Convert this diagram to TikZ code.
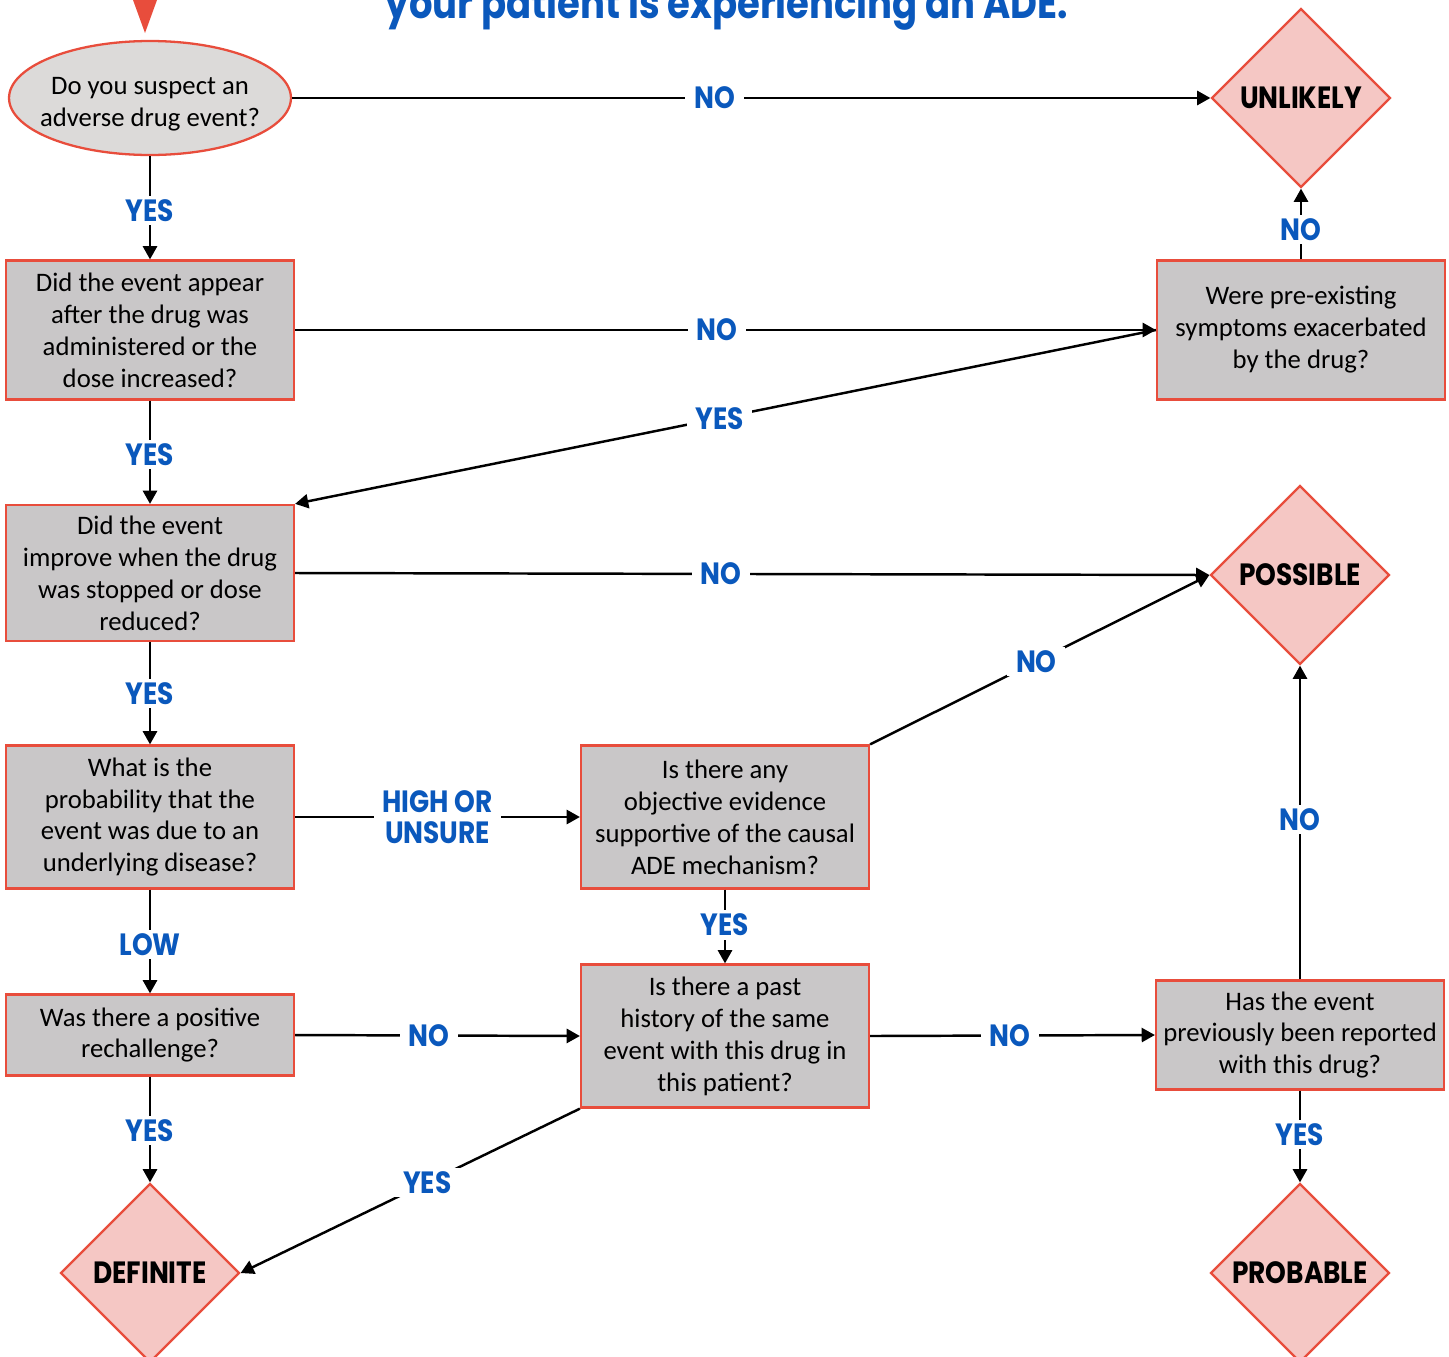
\documentclass[tikz,border=0pt]{standalone}
\usepackage{fontspec}
\setmainfont{Carlito}
\newfontfamily\lblfont{Poppins}[FakeStretch=0.86]
\usetikzlibrary{shapes.geometric,arrows.meta}
\definecolor{adered}{HTML}{E84D3C}
\definecolor{ansblue}{HTML}{0A58BC}
\definecolor{boxgray}{HTML}{C9C7C8}
\definecolor{ellgray}{HTML}{DCDAD9}
\definecolor{verdictpink}{HTML}{F5C7C4}

\begin{document}
\begin{tikzpicture}[x=0.02cm,y=-0.02cm,
  qbox/.style={draw=adered,line width=1.3pt,fill=boxgray,align=center,inner sep=0pt,
    minimum width=5.76cm,font=\fontsize{15.2}{18.2}\selectfont},
  verdict/.style={diamond,draw=adered,line width=1.3pt,fill=verdictpink,inner sep=0pt,
    minimum width=3.58cm,minimum height=3.58cm,font=\lblfont\bfseries\fontsize{17.5}{19}\selectfont},
  ans/.style={fill=white,text=ansblue,inner xsep=5pt,inner ysep=2pt,align=center,
    font=\lblfont\bfseries\fontsize{17.5}{17.6}\selectfont},
  arr/.style={line width=1.4pt,-{Triangle[length=7.5pt,width=8pt]}}]

\useasboundingbox (0,0) rectangle (1449,1356);
\clip (0,0) rectangle (1449,1356);

\fill[adered] (133,0) -- (157,0) -- (145,33) -- cycle;
\node[anchor=base,text=ansblue,font=\lblfont\bfseries\fontsize{24.5}{28}\selectfont] (title) at (727,18) {your patient is experiencing an ADE.};

\node[ellipse,draw=adered,line width=1.3pt,fill=ellgray,minimum width=5.64cm,minimum height=2.28cm,inner xsep=-20pt,inner ysep=0pt,align=center,font=\fontsize{15.2}{18.2}\selectfont] (suspect) at (150,98) {\rule{0pt}{17pt}Do you suspect an\\adverse drug event?};

\node[verdict] (unlikely) at (1301,98) {UNLIKELY};
\node[verdict] (possible) at (1300,575) {POSSIBLE};
\node[verdict] (definite) at (150,1273) {DEFINITE};
\node[verdict] (probable) at (1300,1273) {PROBABLE};

\node[qbox,minimum height=2.78cm] (appear) at (150,330) {Did the event appear\\after the drug was\\administered or the\\dose increased?};
\node[qbox,minimum height=2.78cm] (preexist) at (1301,330) {Were pre-existing\\symptoms exacerbated\\by the drug?};
\node[qbox,minimum height=2.72cm] (improve) at (150,573) {Did the event\\improve when the drug\\was stopped or dose\\reduced?};
\node[qbox,minimum height=2.86cm] (disease) at (150,817) {What is the\\probability that the\\event was due to an\\underlying disease?};
\node[qbox,minimum height=2.86cm] (evidence) at (725,817) {Is there any\\objective evidence\\supportive of the causal\\ADE mechanism?};
\node[qbox,minimum height=1.62cm] (rechallenge) at (150,1035) {Was there a positive\\rechallenge?};
\node[qbox,minimum height=2.86cm] (history) at (725,1036) {Is there a past\\history of the same\\event with this drug in\\this patient?};
\node[qbox,minimum height=2.18cm] (reported) at (1300,1035) {Has the event\\previously been reported\\with this drug?};

\draw[arr] (suspect.east) -- node[ans,pos=0.46]{NO} (unlikely.west);
\draw[arr] (suspect.south) -- node[ans,pos=0.53]{YES} (appear.north);
\draw[arr] (appear.east) -- node[ans,pos=0.49]{NO} (preexist.west);
\draw[arr] (preexist.north) -- node[ans,pos=0.42]{NO} (unlikely.south);
\draw[arr] (preexist.west) -- node[ans,pos=0.507]{YES} (improve.north east);
\draw[arr] (appear.south) -- node[ans,pos=0.52]{YES} (improve.north);
\draw[arr] (improve.east) -- node[ans,pos=0.466]{NO} (possible.west);
\draw[arr] (improve.south) -- node[ans,pos=0.5]{YES} (disease.north);
\draw[arr] (disease.east) -- node[ans,pos=0.5]{HIGH OR\\UNSURE} (evidence.west);
\draw[arr] (evidence.north east) -- node[ans,pos=0.49]{NO} (possible.west);
\draw[arr] (disease.south) -- node[ans,pos=0.53]{LOW} (rechallenge.north);
\draw[arr] (evidence.south) -- node[ans,pos=0.48]{YES} (history.north);
\draw[arr] (rechallenge.east) -- node[ans,pos=0.47]{NO} (history.west);
\draw[arr] (history.east) -- node[ans,pos=0.49]{NO} (reported.west);
\draw[arr] (reported.north) -- node[ans,pos=0.51]{NO} (possible.south);
\draw[arr] (reported.south) -- node[ans,pos=0.48]{YES} (probable.north);
\draw[arr] (rechallenge.south) -- node[ans,pos=0.51]{YES} (definite.north);
\draw[arr] (history.south west) -- node[ans,pos=0.45]{YES} (definite.east);

\end{tikzpicture}
\end{document}
